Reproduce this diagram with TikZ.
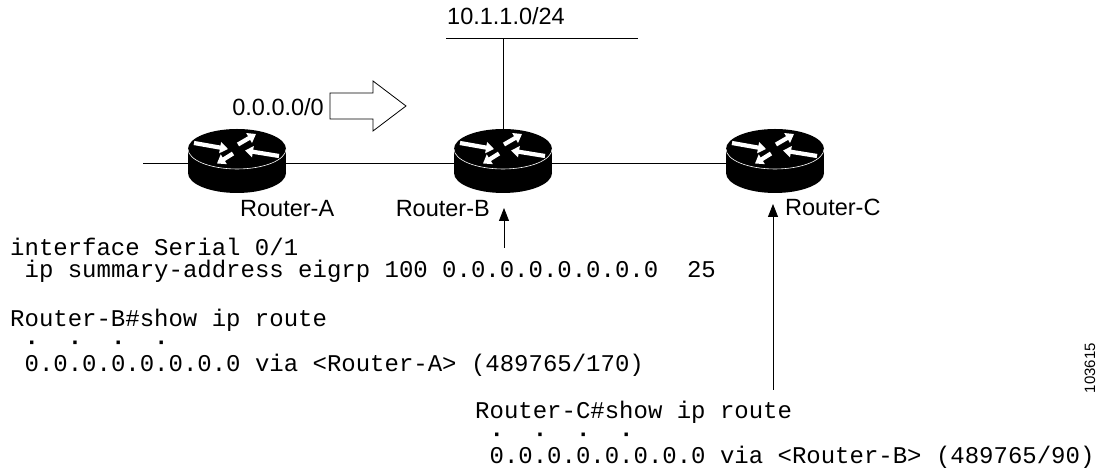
\documentclass[tikz,border=0pt]{standalone}
\usepackage{fontspec}
\setmainfont{Liberation Sans}
\setmonofont{Liberation Mono}
\usepackage{tikz}
\usetikzlibrary{arrows.meta}
\usetikzlibrary{calc}

\begin{document}
\begin{tikzpicture}[x=1pt, y=1pt,
	lbl/.style={font=\fontsize{23.5}{24}\selectfont, inner sep=0pt},
	cli/.style={font=\ttfamily\fontsize{24}{22.5}\selectfont, inner sep=0pt, align=left, anchor=base west},
	router/.style={inner sep=0pt, outer sep=0pt, minimum width=98pt, minimum height=64pt},
	flow/.style={white, line width=4.2pt, -{Triangle[length=8pt,width=11pt]}},
	pointer/.style={line width=0.8pt, -{Triangle[length=13pt,width=10pt]}}]
\useasboundingbox (0,0) rectangle (1103,470);

\node[router] (rA) at (237,309) {};
\node[router] (rB) at (503,309) {};
\node[router] (rC) at (775,309) {};
\coordinate (lanA) at (143,307);
\coordinate (netL) at (446,432);
\coordinate (netR) at (638,432);

% links
\draw[line width=0.8pt] (lanA) -- (lanA -| rC.center);
\draw[line width=0.8pt] (rB.center) -- (rB.center |- netL);
\draw[line width=0.8pt] (netL) -- (netR);

% router icons
\foreach \r in {rA,rB,rC}{
	\begin{scope}[shift={(\r.center)}]
		\fill (0,-12) ellipse [x radius=49, y radius=20];
		\fill (-49,-12) rectangle (49,12);
		\fill (0,12) ellipse [x radius=49, y radius=20];
		\draw[white, line width=0.6pt] (-49,12) arc[start angle=180, end angle=360, x radius=49, y radius=20];
		\draw[flow] (-43,18) -- (-9,12);
		\draw[flow] (1,16.5) -- (19,27);
		\draw[flow] (42,5) -- (8,10.5);
		\draw[flow] (-4,7.5) -- (-20,-2.5);
	\end{scope}
}

% summary advertisement
\draw[line width=0.8pt, fill=white] (330,377) -- (373,377) -- (373,389) -- (406,364) -- (373,339) -- (373,351) -- (330,351) -- cycle;
\node[lbl, anchor=base east] (sumNet) at (324,354) {0.0.0.0/0};
\node[lbl, anchor=base west] (addr) at (447,445) {10.1.1.0/24};

\node[lbl, anchor=base west] (labA) at (240,253) {Router-A};
\node[lbl, anchor=base east] (labB) at (490,253) {Router-B};
\node[lbl, anchor=base west] (labC) at (785,254) {Router-C};

% cli output
\node[cli] (cfgB) at (10,192) {interface Serial 0/1\\\ ip summary-address eigrp 100 0.0.0.0.0.0.0.0\ \ 25};
\node[cli] (showB) at (10,98) {Router-B\#show ip route\\\ \textbf{·}\ \ \textbf{·}\ \ \textbf{·}\ \ \textbf{·}\\\ 0.0.0.0.0.0.0.0 via <Router-A> (489765/170)};
\node[cli] (showC) at (475,6) {Router-C\#show ip route\\\ \textbf{·}\ \ \textbf{·}\ \ \textbf{·}\ \ \textbf{·}\\\ 0.0.0.0.0.0.0.0 via <Router-B> (489765/90)};

\coordinate (tailB) at (504,222);
\coordinate (tipB) at (504,262);
\coordinate (tailC) at (773,80);
\coordinate (tipC) at (773,266);
\draw[pointer] (tailB) -- (tipB);
\draw[pointer] (tailC) -- (tipC);

\node[font=\fontsize{15}{15}\selectfont, rotate=90] (figId) at (1090,102) {103615};
\end{tikzpicture}
\end{document}
